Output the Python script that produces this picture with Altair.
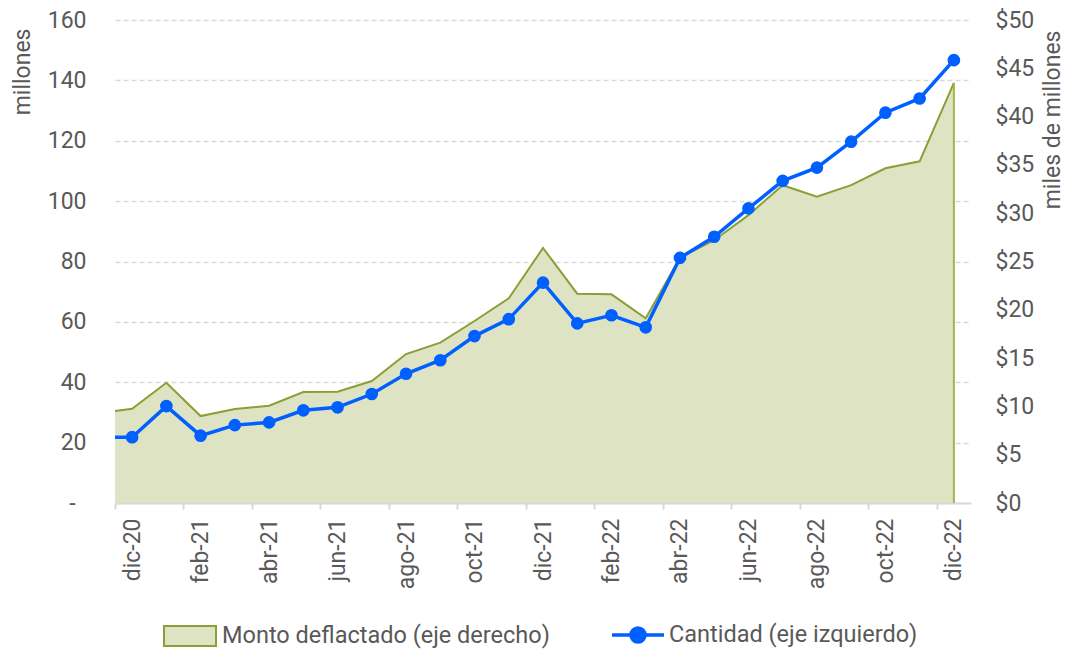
import altair as alt
import pandas as pd

# ---- data ----
meses = ["nov-20", "dic-20", "ene-21", "feb-21", "mar-21", "abr-21", "may-21",
         "jun-21", "jul-21", "ago-21", "sep-21", "oct-21", "nov-21", "dic-21",
         "ene-22", "feb-22", "mar-22", "abr-22", "may-22", "jun-22", "jul-22",
         "ago-22", "sep-22", "oct-22", "nov-22", "dic-22"]
posicion = list(range(-1, 25))
cantidad = [21.8, 21.8, 32.1, 22.3, 25.8, 26.7, 30.7, 31.7, 36.1, 42.8, 47.3,
            55.3, 60.9, 73.0, 59.5, 62.2, 58.2, 81.2, 88.2, 97.6, 106.7, 111.1,
            119.7, 129.3, 134.0, 146.7]
monto = [9.3, 9.76, 12.45, 9.0, 9.73, 10.07, 11.49, 11.52, 12.63, 15.42, 16.6,
         18.84, 21.19, 26.4, 21.67, 21.6, 19.12, 25.4, 27.2, 29.8, 32.9, 31.7,
         32.9, 34.65, 35.37, 43.5]
etiquetas_x = meses[1::2]
valores_izq = list(range(0, 161, 20))
valores_der = list(range(0, 51, 5))

SERIE_M = "Monto deflactado (eje derecho)"
SERIE_C = "Cantidad (eje izquierdo)"

df = pd.DataFrame({"pos": posicion, "mes": meses, "cantidad": cantidad,
                   "monto": monto, "serie_m": SERIE_M, "serie_c": SERIE_C})

# ---- styles ----
W, H = 856, 483
BAND = W / 25
FILL = "#dee3c4"
OLIVE = "#8a9f35"
OLIVE2 = "#a2b548"
BLUE = "#0060ff"
GREY = "#595959"
LIGHT = "#d9d9d9"
FONT = "Roboto"
FS = 23

tick_vals = [-0.5 + 2 * k for k in range(13)]
label_expr = str(etiquetas_x) + "[round((datum.value + 0.5) / 2)]"

x = alt.X("pos:Q",
          scale=alt.Scale(domain=[-0.5, 24.5], nice=False, zero=False),
          axis=alt.Axis(values=tick_vals, labelExpr=label_expr, labelAngle=270,
                        labelOffset=BAND / 2, labelFlush=False, labelOverlap=False,
                        grid=False, domainColor=LIGHT, domainWidth=2,
                        tickColor=LIGHT, tickWidth=2, tickSize=6,
                        labelPadding=9, title=None))

y_m = alt.Y("monto:Q",
            scale=alt.Scale(domain=[0, 50], nice=False),
            axis=alt.Axis(orient="right", values=valores_der,
                          labelExpr="'$' + datum.value", grid=False,
                          domain=False, ticks=False, labelPadding=24,
                          title="miles de millones", titleAngle=270,
                          titleX=88, titleY=10, titleAlign="right",
                          titleBaseline="alphabetic"))

y_c = alt.Y("cantidad:Q",
            scale=alt.Scale(domain=[0, 160], nice=False),
            axis=alt.Axis(orient="left", values=valores_izq,
                          labelExpr="datum.value == 0 ? '-' : datum.label",
                          grid=True, gridColor=LIGHT, gridDash=[5, 3], gridWidth=1.5,
                          domain=False, ticks=False,
                          labelPadding={"condition": {"test": "datum.value == 0", "value": 40},
                                        "value": 29},
                          title="millones", titleAngle=270,
                          titleX=-86, titleY=8, titleAlign="right",
                          titleBaseline="alphabetic"))

base = alt.Chart(df)

RECT_PATH = "M-1,-0.38H1V0.38H-1Z"
LINE_PATH = "M-1,0H1M0.27,0A0.27,0.27,0,1,1,-0.27,0A0.27,0.27,0,1,1,0.27,0Z"

area = base.mark_area(opacity=1, clip=True).encode(
    x=x, y=y_m,
    fill=alt.Fill("serie_m:N",
                  scale=alt.Scale(domain=[SERIE_M], range=[FILL]),
                  legend=alt.Legend(orient="none", legendX=48, legendY=589,
                                    title=None, symbolType=RECT_PATH,
                                    symbolSize=2704, symbolStrokeColor=OLIVE,
                                    symbolStrokeWidth=2, symbolFillColor=FILL,
                                    labelOffset=5, padding=0, labelFontSize=23.5)))
borde = base.mark_line(color=OLIVE, strokeWidth=2, clip=True).encode(x=x, y=y_m)
canto = base.transform_filter(alt.datum.pos == 24).mark_rule(
    color=OLIVE2, strokeWidth=2).encode(x=x, y=y_m, y2=alt.datum(0))

linea = base.mark_line(strokeWidth=3.5, clip=True).encode(
    x=x, y=y_c,
    stroke=alt.Stroke("serie_c:N",
                      scale=alt.Scale(domain=[SERIE_C], range=[BLUE]),
                      legend=alt.Legend(orient="none", legendX=495, legendY=587,
                                        title=None, symbolType=LINE_PATH,
                                        symbolSize=2704, symbolStrokeWidth=3.5,
                                        symbolFillColor=BLUE, symbolStrokeColor=BLUE,
                                        labelOffset=3, padding=0, labelFontSize=23.5)))
puntos = base.transform_filter(alt.datum.pos >= 0).mark_circle(
    size=160, opacity=1, color=BLUE).encode(x=x, y=y_c)

chart = alt.layer(
    alt.layer(area, borde, canto),
    alt.layer(linea, puntos),
).resolve_scale(y="independent").properties(
    width=W, height=H,
    autosize=alt.AutoSizeParams(type="none"),
    padding={"left": 107, "top": 12, "right": 94, "bottom": 150},
).configure_view(stroke=None).configure_axis(
    labelFont=FONT, labelFontSize=FS, labelColor=GREY,
    titleFont=FONT, titleFontSize=FS, titleColor=GREY, titleFontWeight="normal",
).configure_legend(
    labelFont=FONT, labelFontSize=FS, labelColor=GREY, labelLimit=0,
)

chart.save("out.html", embed_options={"renderer": "svg", "actions": False})
